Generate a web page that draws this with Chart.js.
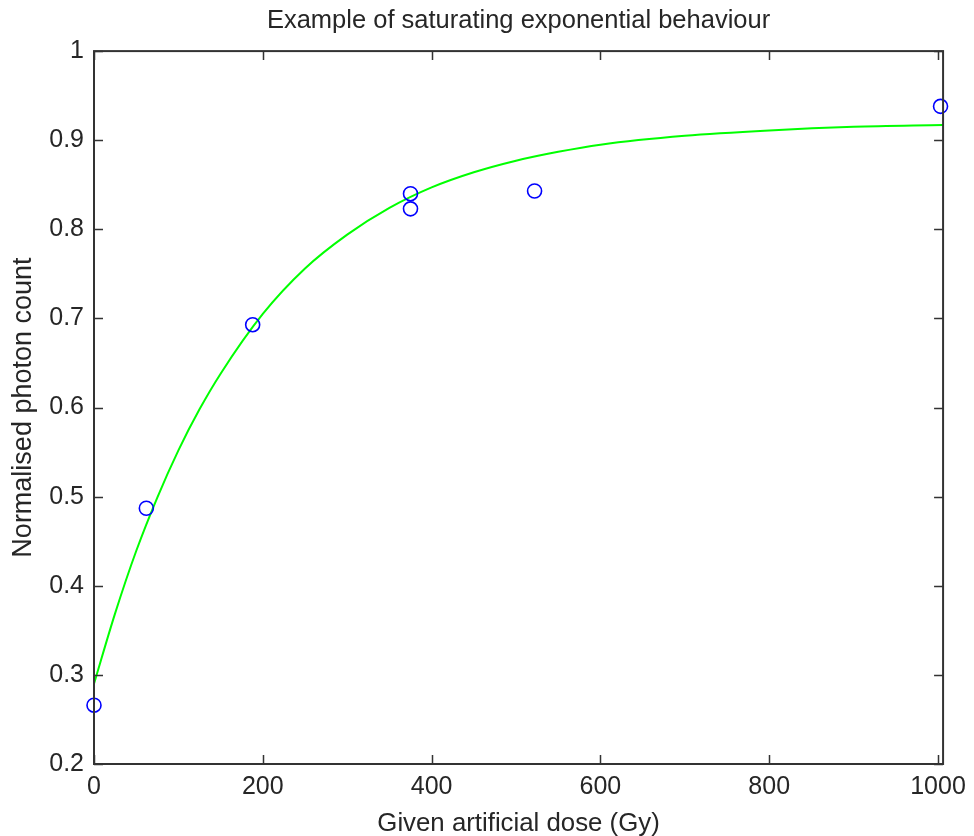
<!DOCTYPE html>
<html>
<head>
<meta charset="utf-8">
<script src="https://cdn.jsdelivr.net/npm/chart.js@4/dist/chart.umd.min.js"></script>
<style>
html,body{margin:0;padding:0;background:#fff;}
#wrap{width:974px;height:836px;}
</style>
</head>
<body>
<div id="wrap"><canvas id="c" width="974" height="836"></canvas></div>
<script>
// Measured data points
const doseX = [0, 62, 188, 375, 375, 522, 1003];
const countY = [0.266, 0.487, 0.693, 0.840, 0.823, 0.843, 0.938];

// Fitted curve
const fitX = [0, 25, 50, 75, 100, 125, 150, 200, 250, 300, 350, 400, 450, 500, 550, 600, 700, 800, 900, 1006];
const fitY = [0.290, 0.369, 0.439, 0.499, 0.552, 0.598, 0.638, 0.705, 0.756, 0.794, 0.824, 0.847, 0.864, 0.877, 0.887, 0.895, 0.905, 0.911, 0.915, 0.917];

// Tick labels
const xTicks = [0, 200, 400, 600, 800, 1000];
const yTicks = [0.2, 0.3, 0.4, 0.5, 0.6, 0.7, 0.8, 0.9, 1];

const FONT = "'Liberation Sans', Arial, sans-serif";
const TXT = '#262626';

const boxPlugin = {
  id: 'box',
  afterDatasetsDraw(chart) {
    const {ctx, chartArea: a, scales: {x, y}} = chart;
    const tl = 9;
    ctx.save();
    ctx.strokeStyle = '#333';
    ctx.lineWidth = 2;
    ctx.strokeRect(a.left, a.top, a.right - a.left, a.bottom - a.top);
    ctx.lineWidth = 1.5;
    ctx.beginPath();
    xTicks.forEach(v => {
      const px = Math.round(x.getPixelForValue(v)) + 0.5;
      ctx.moveTo(px, a.bottom); ctx.lineTo(px, a.bottom - tl);
      ctx.moveTo(px, a.top); ctx.lineTo(px, a.top + tl);
    });
    yTicks.forEach(v => {
      const py = Math.round(y.getPixelForValue(v)) + 0.5;
      ctx.moveTo(a.left, py); ctx.lineTo(a.left + tl, py);
      ctx.moveTo(a.right, py); ctx.lineTo(a.right - tl, py);
    });
    ctx.stroke();
    ctx.restore();
  }
};

new Chart(document.getElementById('c'), {
  type: 'scatter',
  data: {
    datasets: [
      {
        type: 'line',
        data: fitX.map((v, i) => ({x: v, y: fitY[i]})),
        borderColor: '#00ff00',
        borderWidth: 2,
        pointRadius: 0,
        fill: false,
        cubicInterpolationMode: 'monotone',
        order: 2
      },
      {
        type: 'scatter',
        data: doseX.map((v, i) => ({x: v, y: countY[i]})),
        borderColor: '#0000ff',
        backgroundColor: 'rgba(0,0,0,0)',
        borderWidth: 1.6,
        pointRadius: 7,
        pointHoverRadius: 7,
        clip: false,
        order: 1
      }
    ]
  },
  options: {
    responsive: false,
    animation: false,
    events: [],
    layout: {padding: {left: 0, right: 28, top: 0, bottom: 0}},
    plugins: {
      legend: {display: false},
      tooltip: {enabled: false},
      title: {
        display: true,
        text: 'Example of saturating exponential behaviour',
        color: TXT,
        fullSize: false,
        font: {family: FONT, size: 25.5, weight: 'normal', lineHeight: 1.2},
        padding: {top: 5.5, bottom: 15}
      }
    },
    scales: {
      x: {
        type: 'linear',
        min: 0,
        max: 1006,
        afterFit(s) { s.height = 72; },
        afterBuildTicks(s) { s.ticks = xTicks.map(v => ({value: v})); },
        grid: {display: false, drawTicks: false},
        border: {display: false},
        ticks: {
          color: TXT,
          padding: 8,
          maxRotation: 0,
          autoSkip: false,
          font: {family: FONT, size: 25},
          callback: v => String(v)
        },
        title: {
          display: true,
          text: 'Given artificial dose (Gy)',
          color: TXT,
          font: {family: FONT, size: 25.8},
          padding: {top: 0, bottom: -3}
        }
      },
      y: {
        type: 'linear',
        min: 0.2,
        max: 1,
        afterFit(s) { s.width = 94; },
        afterBuildTicks(s) { s.ticks = yTicks.map(v => ({value: v})); },
        grid: {display: false, drawTicks: false},
        border: {display: false},
        ticks: {
          color: TXT,
          padding: 10,
          autoSkip: false,
          font: {family: FONT, size: 25},
          callback: v => String(Math.round(v * 10) / 10)
        },
        title: {
          display: true,
          text: 'Normalised photon count',
          color: TXT,
          font: {family: FONT, size: 27},
          padding: {top: 7, bottom: 0}
        }
      }
    }
  },
  plugins: [boxPlugin]
});
</script>
</body>
</html>
